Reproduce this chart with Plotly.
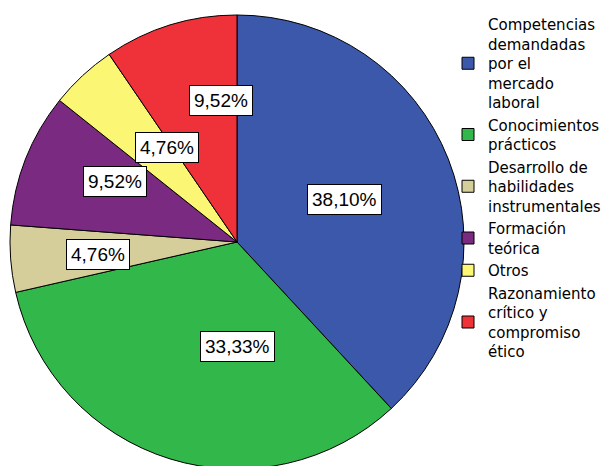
import math
import plotly.graph_objects as go

categories = [
    "Competencias<br>demandadas<br>por el<br>mercado<br>laboral",
    "Conocimientos<br>prácticos",
    "Desarrollo de<br>habilidades<br>instrumentales",
    "Formación<br>teórica",
    "Otros",
    "Razonamiento<br>crítico y<br>compromiso<br>ético",
]
percentages = [38.10, 33.33, 4.76, 9.52, 4.76, 9.52]
value_labels = ["38,10%", "33,33%", "4,76%", "9,52%", "4,76%", "9,52%"]

colors = ["#3C58AB", "#31B74A", "#D5CE9B", "#7B2A82", "#FBF774", "#EF3139"]
label_radius = [0.51, 0.555, 0.755, 0.73, 0.66, 0.725]

W, H = 613, 466
dom_x = [2 / W, 456 / W]
dom_y = [5 / H, (H - 7) / H]

fig = go.Figure(
    go.Pie(
        labels=categories,
        values=percentages,
        sort=False,
        direction="clockwise",
        rotation=0,
        marker=dict(colors=colors, line=dict(color="#000000", width=1)),
        textinfo="none",
        hoverinfo="label+percent",
        domain=dict(x=dom_x, y=dom_y),
    )
)

# label positions from data
cx = (dom_x[0] + dom_x[1]) / 2 * W
cy = H - (dom_y[0] + dom_y[1]) / 2 * H
R = min((dom_x[1] - dom_x[0]) * W, (dom_y[1] - dom_y[0]) * H) / 2
total = sum(percentages)
cum = 0.0
for v, txt, rf in zip(percentages, value_labels, label_radius):
    mid = (cum + v / 2) / total * 2 * math.pi
    cum += v
    xp = cx + rf * R * math.sin(mid)
    yp = cy - rf * R * math.cos(mid)
    fig.add_annotation(
        x=xp / W, y=1 - yp / H, xref="paper", yref="paper",
        text=txt, showarrow=False,
        font=dict(family="Liberation Sans, Arial, sans-serif", size=19, color="#000000"),
        bgcolor="#FFFFFF", bordercolor="#000000", borderwidth=1, borderpad=4,
    )

fig.update_layout(
    width=W, height=H,
    margin=dict(l=0, r=0, t=0, b=0),
    paper_bgcolor="#FFFFFF",
    showlegend=True,
    legend=dict(
        x=440 / W, xanchor="left", y=1.0, yanchor="top",
        font=dict(family="DejaVu Sans, sans-serif", size=15, color="#000000"),
        itemwidth=30, valign="middle", bgcolor="rgba(0,0,0,0)",
        traceorder="normal",
    ),
)

fig.write_html("out.html")
